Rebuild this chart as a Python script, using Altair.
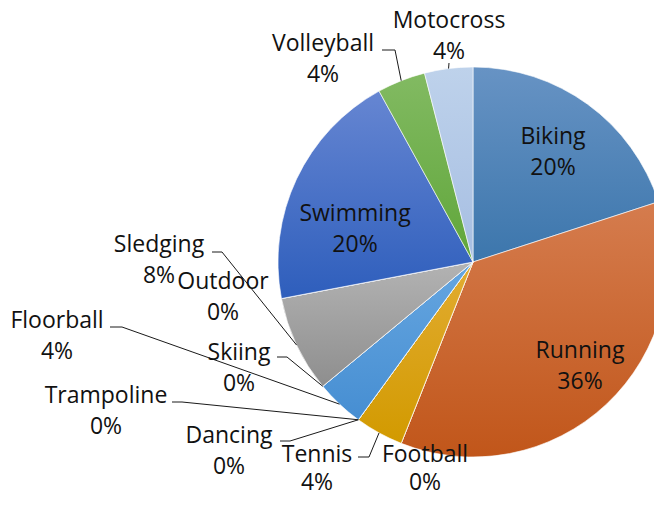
import math
import altair as alt
import pandas as pd

# ---- data ----
sports = ["Biking", "Running", "Football", "Tennis", "Dancing", "Trampoline",
          "Floorball", "Skiing", "Sledging", "Outdoor", "Swimming",
          "Volleyball", "Motocross"]
counts = [5, 9, 0, 1, 0, 0, 1, 0, 2, 0, 5, 1, 1]

# ---- styling: gradient colours (top, bottom) per slice ----
top_colors = ["#6793c4", "#d57c4e", "#b0b0b0", "#e2ac32", "#4472c4", "#70ad47",
              "#66a6e0", "#a5a5a5", "#b3b3b3", "#ffc000", "#6686d2",
              "#82ba62", "#bed2eb"]
bottom_colors = ["#3c76ac", "#c1561a", "#909090", "#d29a00", "#2f5fbd", "#5a9a38",
                 "#468ed2", "#8c8c8c", "#8e8e8e", "#d29a00", "#2e5ebc",
                 "#60a63a", "#a6bee2"]

# ---- layout (page pixel coords) ----
CX, CY, R = 473, 262, 195
label_x = [553, 580, 425, 317, 229, 106, 57, 239, 159, 223, 355, 323, 449]
# y of the first text line
label_y = [137, 351, 455, 455, 436, 396, 321, 353, 245, 282, 214, 44, 21]
# labels squeezed at the bottom edge use a tighter line height
tight = ["Football", "Tennis"]
# leader line start (label side) and elbow; None = no leader
leader_start = [None, None, None, (358, 457), (280, 441), (172, 402),
                (110, 327), (277, 357), (212, 252), None, None,
                (382, 50), (449, 63)]
leader_elbow = [None, None, None, (369, 457), (290, 441), (182, 402),
                (122, 327), (287, 357), (222, 252), None, None,
                (395, 50), (449, 63)]
M = 8  # page margin
W, H = 646, 487

total = sum(counts)
pcts = [round(100 * c / total) for c in counts]

df = pd.DataFrame({
    "sport": sports,
    "count": counts,
    "idx": list(range(len(sports))),
    "label": [f"{s}\n{p}%" for s, p in zip(sports, pcts)],
    "lx": [x - M for x in label_x],
    "ly": [y - M for y in label_y],
})

# leader lines: end at the middle of the slice on the circumference
rows = []
cum = 0
for i, s in enumerate(sports):
    frac_mid = (cum + counts[i] / 2) / total
    cum += counts[i]
    if leader_start[i] is None:
        continue
    ang = 2 * math.pi * frac_mid
    ex = CX + R * math.sin(ang)
    ey = CY - R * math.cos(ang)
    pts = [leader_start[i], leader_elbow[i], (ex, ey)]
    for k, (px, py) in enumerate(pts):
        rows.append({"sport": s, "seq": k, "px": px - M, "py": py - M})
lines_df = pd.DataFrame(rows)


def grad(t, b):
    return {"gradient": "linear", "x1": 0, "y1": 0, "x2": 0, "y2": 1,
            "stops": [{"offset": 0, "color": t}, {"offset": 1, "color": b}]}


conds = [{"test": f"datum.sport === '{s}'", "value": grad(t, b)}
         for s, t, b in zip(sports, top_colors, bottom_colors)]

pie = alt.Chart(df).mark_arc(radius=R, stroke="#ffffff", strokeWidth=0.6,
                             clip=True).encode(
    theta=alt.Theta("count:Q", stack=True),
    order=alt.Order("idx:Q"),
    color=alt.ColorValue(value="#999999", condition=conds),
    x=alt.value(CX - M),
    y=alt.value(CY - M),
)

leaders = alt.Chart(lines_df).mark_line(color="#1a1a1a", strokeWidth=1).encode(
    x=alt.X("px:Q", scale=None, axis=None),
    y=alt.Y("py:Q", scale=None, axis=None),
    detail="sport:N",
    order="seq:Q",
)

tight_test = " || ".join(f"datum.sport === '{s}'" for s in tight)


def text_layer(lh, keep):
    return alt.Chart(df).transform_filter(
        tight_test if keep else f"!({tight_test})"
    ).mark_text(font="Open Sans", fontSize=23, lineBreak="\n",
                lineHeight=lh, align="center", baseline="middle",
                color="#111111").encode(
        x=alt.X("lx:Q", scale=None, axis=None),
        y=alt.Y("ly:Q", scale=None, axis=None),
        text="label:N",
    )


labels = text_layer(31, False)
labels_tight = text_layer(28, True)

chart = alt.layer(pie, leaders, labels, labels_tight).properties(
    width=W, height=H, autosize="none", padding=0,
    background="white",
).configure_view(stroke=None)

chart.save("out.html", embed_options={"renderer": "svg", "actions": False})
